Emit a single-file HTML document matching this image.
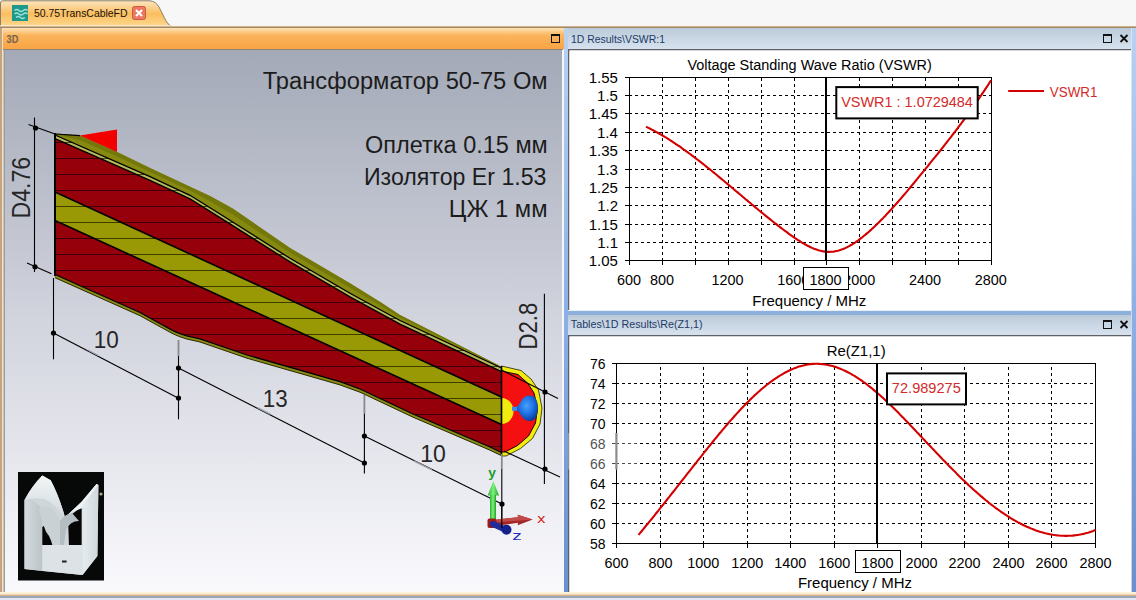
<!DOCTYPE html>
<html><head><meta charset="utf-8"><style>
html,body{margin:0;padding:0;width:1136px;height:600px;overflow:hidden;background:#f7f7f7;}
svg{position:absolute;left:0;top:0;}
text{font-family:"Liberation Sans", sans-serif;}
</style></head><body>
<svg width="1136" height="600" viewBox="0 0 1136 600">
<defs>
<linearGradient id="gTab" x1="0" y1="0" x2="0" y2="1">
 <stop offset="0" stop-color="#fde6c0"/><stop offset="0.5" stop-color="#fbbe60"/><stop offset="1" stop-color="#fdd98e"/>
</linearGradient>
<linearGradient id="gHdrL" x1="0" y1="0" x2="0" y2="1">
 <stop offset="0" stop-color="#fde2b4"/><stop offset="0.35" stop-color="#fbb45c"/><stop offset="1" stop-color="#f9a444"/>
</linearGradient>
<linearGradient id="gHdrR" x1="0" y1="0" x2="0" y2="1">
 <stop offset="0" stop-color="#bac8d6"/><stop offset="0.1" stop-color="#bfcddb"/><stop offset="1" stop-color="#d6e2ee"/>
</linearGradient>
<linearGradient id="gStrip" x1="0" y1="28" x2="0" y2="594" gradientUnits="userSpaceOnUse">
 <stop offset="0" stop-color="#b8d2f4"/><stop offset="0.5" stop-color="#8cb0e6"/><stop offset="1" stop-color="#6890d0"/>
</linearGradient>
<linearGradient id="g3d" x1="0" y1="0" x2="0" y2="1">
 <stop offset="0" stop-color="#a3a9b7"/><stop offset="0.5" stop-color="#d2d4de"/><stop offset="1" stop-color="#fafafd"/>
</linearGradient>
</defs>

<rect x="0" y="0" width="1136" height="28" fill="#f7f7f7"/>
<path d="M0.5,27 L0.5,3 Q0.5,0.8 2.5,0.8 L150,0.8 Q156,1.5 159,7 L166,21 Q169,26 173,27 Z" fill="url(#gTab)" stroke="#8c7f6a" stroke-width="1"/>
<rect x="0" y="25" width="1136" height="1" fill="#fcf4ec" opacity="0.7"/>
<rect x="0" y="26" width="1136" height="1" fill="#cfb28c"/>
<rect x="0" y="27" width="1136" height="1" fill="#a08a6c"/>
<rect x="12" y="5" width="16" height="16" fill="#1b9a8c"/>
<path d="M14.5,10.5 q2.2,-2 4.4,0 t4.4,0 t4.4,0 M14.5,14 q2.2,-2 4.4,0 t4.4,0 t4.4,0 M16,17.5 q2.2,-2 4.4,0 t4.4,0" fill="none" stroke="#9fe0d6" stroke-width="1.3"/>
<text transform="translate(33.93,16.50) scale(0.9496,1)" font-size="11" fill="#1a1208" >50.75TransCableFD</text>
<rect x="132.5" y="6.5" width="13" height="13" rx="2" fill="#ea7862" stroke="#cc5a40" stroke-width="1"/>
<path d="M136,10 L142,16 M142,10 L136,16" stroke="#fff" stroke-width="2"/>
<rect x="0" y="28" width="2" height="566" fill="#c8a47c"/>
<rect x="2" y="28" width="1.5" height="566" fill="#efe2cc"/>
<rect x="3.5" y="50" width="1.5" height="543" fill="#9c9c9c"/>
<rect x="3" y="28" width="561" height="21" fill="url(#gHdrL)"/>
<rect x="3" y="49" width="560" height="1" fill="#8c8478"/>
<text transform="translate(6.60,43.00) scale(0.8000,1)" font-size="11.5" font-weight="bold" fill="#74604e" >3D</text>
<rect x="551.5" y="34.5" width="8" height="8" fill="none" stroke="#111" stroke-width="1"/><rect x="551" y="34" width="9" height="2" fill="#111"/>
<rect x="5" y="50" width="558" height="543" fill="url(#g3d)"/>
<rect x="562" y="50" width="2" height="543" fill="#f6f6f8"/>
<rect x="564" y="28" width="4" height="565.5" fill="url(#gStrip)"/>
<rect x="1131.5" y="28" width="4.5" height="565.5" fill="url(#gStrip)"/><rect x="1130.3" y="50" width="1.2" height="543" fill="#dfe5ec"/>
<rect x="568" y="28" width="563" height="21" fill="url(#gHdrR)"/>
<rect x="568" y="49" width="563" height="1.5" fill="#5e6268"/>
<text transform="translate(570.95,42.60) scale(0.9949,1)" font-size="10.5" fill="#1e3a68" >1D Results\VSWR:1</text>
<rect x="1103.5" y="34.5" width="8" height="8" fill="none" stroke="#111" stroke-width="1"/><rect x="1103" y="34" width="9" height="2" fill="#111"/><path d="M1120.5,35 L1127.5,42 M1127.5,35 L1120.5,42" stroke="#111" stroke-width="1.8"/>
<rect x="568" y="50" width="1.5" height="261" fill="#5e6268"/>
<rect x="569.5" y="50.5" width="561.5" height="260" fill="#ffffff"/>
<rect x="568" y="310" width="563" height="1" fill="#e8eef6"/>
<rect x="568" y="311" width="563" height="4" fill="#8eb0dc"/>
<rect x="568" y="315" width="563" height="20" fill="url(#gHdrR)"/>
<rect x="568" y="335" width="563" height="1.5" fill="#5e6268"/>
<text transform="translate(570.84,328.20) scale(1.0209,1)" font-size="10.5" fill="#1e3a68" >Tables\1D Results\Re(Z1,1)</text>
<rect x="1103.5" y="320.5" width="8" height="8" fill="none" stroke="#111" stroke-width="1"/><rect x="1103" y="320" width="9" height="2" fill="#111"/><path d="M1120.5,321 L1127.5,328 M1127.5,321 L1120.5,328" stroke="#111" stroke-width="1.8"/>
<rect x="568" y="336" width="1.5" height="257" fill="#5e6268"/>
<rect x="569.5" y="336.5" width="561.5" height="256" fill="#ffffff"/>
<rect x="0" y="592" width="1136" height="3" fill="#fdf0d8"/>
<rect x="0" y="594.5" width="1136" height="1.5" fill="#d8b48a"/>
<rect x="0" y="596" width="1136" height="2" fill="#9aa6b6"/>
<rect x="0" y="598" width="1136" height="2" fill="#dfe8f4"/>
<line x1="662.5" y1="261.0" x2="662.5" y2="78.0" stroke="#000" stroke-width="1" stroke-dasharray="3,3"/><line x1="695.5" y1="261.0" x2="695.5" y2="78.0" stroke="#000" stroke-width="1" stroke-dasharray="3,3"/><line x1="728.5" y1="261.0" x2="728.5" y2="78.0" stroke="#000" stroke-width="1" stroke-dasharray="3,3"/><line x1="761.5" y1="261.0" x2="761.5" y2="78.0" stroke="#000" stroke-width="1" stroke-dasharray="3,3"/><line x1="794.5" y1="261.0" x2="794.5" y2="78.0" stroke="#000" stroke-width="1" stroke-dasharray="3,3"/><line x1="859.5" y1="261.0" x2="859.5" y2="78.0" stroke="#000" stroke-width="1" stroke-dasharray="3,3"/><line x1="892.5" y1="261.0" x2="892.5" y2="78.0" stroke="#000" stroke-width="1" stroke-dasharray="3,3"/><line x1="925.5" y1="261.0" x2="925.5" y2="78.0" stroke="#000" stroke-width="1" stroke-dasharray="3,3"/><line x1="958.5" y1="261.0" x2="958.5" y2="78.0" stroke="#000" stroke-width="1" stroke-dasharray="3,3"/><line x1="629.0" y1="95.5" x2="992.0" y2="95.5" stroke="#000" stroke-width="1" stroke-dasharray="3,3"/><line x1="629.0" y1="113.5" x2="992.0" y2="113.5" stroke="#000" stroke-width="1" stroke-dasharray="3,3"/><line x1="629.0" y1="132.5" x2="992.0" y2="132.5" stroke="#000" stroke-width="1" stroke-dasharray="3,3"/><line x1="629.0" y1="150.5" x2="992.0" y2="150.5" stroke="#000" stroke-width="1" stroke-dasharray="3,3"/><line x1="629.0" y1="169.5" x2="992.0" y2="169.5" stroke="#000" stroke-width="1" stroke-dasharray="3,3"/><line x1="629.0" y1="187.5" x2="992.0" y2="187.5" stroke="#000" stroke-width="1" stroke-dasharray="3,3"/><line x1="629.0" y1="205.5" x2="992.0" y2="205.5" stroke="#000" stroke-width="1" stroke-dasharray="3,3"/><line x1="629.0" y1="224.5" x2="992.0" y2="224.5" stroke="#000" stroke-width="1" stroke-dasharray="3,3"/><line x1="629.0" y1="242.5" x2="992.0" y2="242.5" stroke="#000" stroke-width="1" stroke-dasharray="3,3"/>
<rect x="629.5" y="77.5" width="362.0" height="183.0" fill="none" stroke="#000" stroke-width="1"/>
<line x1="625.0" y1="77.5" x2="632.0" y2="77.5" stroke="#000"/>
<line x1="625.0" y1="95.5" x2="632.0" y2="95.5" stroke="#000"/>
<line x1="625.0" y1="113.5" x2="632.0" y2="113.5" stroke="#000"/>
<line x1="625.0" y1="132.5" x2="632.0" y2="132.5" stroke="#000"/>
<line x1="625.0" y1="150.5" x2="632.0" y2="150.5" stroke="#000"/>
<line x1="625.0" y1="169.5" x2="632.0" y2="169.5" stroke="#000"/>
<line x1="625.0" y1="187.5" x2="632.0" y2="187.5" stroke="#000"/>
<line x1="625.0" y1="205.5" x2="632.0" y2="205.5" stroke="#000"/>
<line x1="625.0" y1="224.5" x2="632.0" y2="224.5" stroke="#000"/>
<line x1="625.0" y1="242.5" x2="632.0" y2="242.5" stroke="#000"/>
<line x1="625.0" y1="260.5" x2="632.0" y2="260.5" stroke="#000"/>
<line x1="629.5" y1="258.0" x2="629.5" y2="265.0" stroke="#000"/>
<line x1="662.5" y1="258.0" x2="662.5" y2="265.0" stroke="#000"/>
<line x1="695.5" y1="258.0" x2="695.5" y2="265.0" stroke="#000"/>
<line x1="728.5" y1="258.0" x2="728.5" y2="265.0" stroke="#000"/>
<line x1="761.5" y1="258.0" x2="761.5" y2="265.0" stroke="#000"/>
<line x1="794.5" y1="258.0" x2="794.5" y2="265.0" stroke="#000"/>
<line x1="826.5" y1="258.0" x2="826.5" y2="265.0" stroke="#000"/>
<line x1="859.5" y1="258.0" x2="859.5" y2="265.0" stroke="#000"/>
<line x1="892.5" y1="258.0" x2="892.5" y2="265.0" stroke="#000"/>
<line x1="925.5" y1="258.0" x2="925.5" y2="265.0" stroke="#000"/>
<line x1="958.5" y1="258.0" x2="958.5" y2="265.0" stroke="#000"/>
<line x1="991.5" y1="258.0" x2="991.5" y2="265.0" stroke="#000"/>
<text transform="translate(588.67,82.60) scale(1.0000,1)" font-size="15" fill="#000" >1.55</text>
<text transform="translate(597.05,100.60) scale(1.0000,1)" font-size="15" fill="#000" >1.5</text>
<text transform="translate(588.67,118.60) scale(1.0000,1)" font-size="15" fill="#000" >1.45</text>
<text transform="translate(596.92,137.60) scale(1.0000,1)" font-size="15" fill="#000" >1.4</text>
<text transform="translate(588.67,155.60) scale(1.0000,1)" font-size="15" fill="#000" >1.35</text>
<text transform="translate(597.05,174.60) scale(1.0000,1)" font-size="15" fill="#000" >1.3</text>
<text transform="translate(588.67,192.60) scale(1.0000,1)" font-size="15" fill="#000" >1.25</text>
<text transform="translate(597.17,210.60) scale(1.0000,1)" font-size="15" fill="#000" >1.2</text>
<text transform="translate(588.67,229.60) scale(1.0000,1)" font-size="15" fill="#000" >1.15</text>
<text transform="translate(597.17,247.60) scale(1.0000,1)" font-size="15" fill="#000" >1.1</text>
<text transform="translate(588.67,265.60) scale(1.0000,1)" font-size="15" fill="#000" >1.05</text>
<text transform="translate(616.94,284.50) scale(0.9600,1)" font-size="15" fill="#000" >600</text>
<text transform="translate(649.90,284.50) scale(0.9600,1)" font-size="15" fill="#000" >800</text>
<text transform="translate(711.44,284.50) scale(0.9600,1)" font-size="15" fill="#000" >1200</text>
<text transform="translate(777.24,284.50) scale(0.9600,1)" font-size="15" fill="#000" >1600</text>
<text transform="translate(843.22,284.50) scale(0.9600,1)" font-size="15" fill="#000" >2000</text>
<text transform="translate(909.02,284.50) scale(0.9600,1)" font-size="15" fill="#000" >2400</text>
<text transform="translate(974.82,284.50) scale(0.9600,1)" font-size="15" fill="#000" >2800</text>
<rect x="803.5" y="267.5" width="45" height="22" fill="#fff" stroke="#000" stroke-width="1"/>
<text transform="translate(809.54,284.50) scale(0.9600,1)" font-size="15" fill="#000" >1800</text>
<text transform="translate(752.35,305.70) scale(0.9987,1)" font-size="15" fill="#000" >Frequency / MHz</text>
<text transform="translate(687.38,70.00) scale(0.9646,1)" font-size="15" fill="#000" >Voltage Standing Wave Ratio (VSWR)</text>
<path d="M646.0,126.7 L647.4,127.4 L648.9,128.1 L650.3,128.8 L651.8,129.6 L653.2,130.3 L654.7,131.1 L656.1,131.9 L657.6,132.7 L659.0,133.5 L660.4,134.3 L661.9,135.1 L663.3,136.0 L664.8,136.9 L666.2,137.7 L667.7,138.6 L669.1,139.5 L670.5,140.5 L672.0,141.4 L673.4,142.3 L674.9,143.3 L676.3,144.3 L677.8,145.3 L679.2,146.2 L680.7,147.2 L682.1,148.3 L683.5,149.3 L685.0,150.3 L686.4,151.4 L687.9,152.4 L689.3,153.5 L690.8,154.5 L692.2,155.6 L693.6,156.7 L695.1,157.8 L696.5,158.9 L698.0,160.0 L699.4,161.1 L700.9,162.2 L702.3,163.4 L703.8,164.5 L705.2,165.7 L706.6,166.8 L708.1,168.0 L709.5,169.1 L711.0,170.3 L712.4,171.5 L713.9,172.6 L715.3,173.8 L716.8,175.0 L718.2,176.2 L719.6,177.4 L721.1,178.6 L722.5,179.8 L724.0,181.0 L725.4,182.2 L726.9,183.4 L728.3,184.6 L729.7,185.8 L731.2,187.0 L732.6,188.2 L734.1,189.5 L735.5,190.7 L737.0,191.9 L738.4,193.1 L739.9,194.3 L741.3,195.5 L742.7,196.7 L744.2,198.0 L745.6,199.2 L747.1,200.4 L748.5,201.6 L750.0,202.8 L751.4,204.0 L752.9,205.2 L754.3,206.4 L755.7,207.6 L757.2,208.8 L758.6,210.0 L760.1,211.2 L761.5,212.4 L763.0,213.5 L764.4,214.7 L765.8,215.9 L767.3,217.1 L768.7,218.2 L770.2,219.4 L771.6,220.5 L773.1,221.7 L774.5,222.8 L776.0,223.9 L777.4,225.1 L778.8,226.2 L780.3,227.3 L781.7,228.4 L783.2,229.5 L784.6,230.6 L786.1,231.6 L787.5,232.7 L788.9,233.8 L790.4,234.8 L791.8,235.8 L793.3,236.9 L794.7,237.9 L796.2,238.8 L797.6,239.8 L799.1,240.7 L800.5,241.7 L801.9,242.6 L803.4,243.4 L804.8,244.2 L806.3,245.0 L807.7,245.8 L809.2,246.5 L810.6,247.2 L812.1,247.9 L813.5,248.5 L814.9,249.1 L816.4,249.6 L817.8,250.1 L819.3,250.5 L820.7,250.8 L822.2,251.2 L823.6,251.4 L825.0,251.6 L826.5,251.8 L827.9,251.9 L829.4,251.9 L830.8,251.8 L832.3,251.7 L833.7,251.6 L835.2,251.3 L836.6,251.0 L838.0,250.7 L839.5,250.3 L840.9,249.8 L842.4,249.3 L843.8,248.7 L845.3,248.1 L846.7,247.4 L848.2,246.6 L849.6,245.9 L851.0,245.0 L852.5,244.2 L853.9,243.3 L855.4,242.3 L856.8,241.3 L858.3,240.3 L859.7,239.2 L861.1,238.1 L862.6,237.0 L864.0,235.8 L865.5,234.6 L866.9,233.4 L868.4,232.2 L869.8,230.9 L871.3,229.6 L872.7,228.3 L874.1,226.9 L875.6,225.5 L877.0,224.1 L878.5,222.7 L879.9,221.3 L881.4,219.8 L882.8,218.4 L884.2,216.9 L885.7,215.4 L887.1,213.8 L888.6,212.3 L890.0,210.7 L891.5,209.1 L892.9,207.5 L894.4,205.9 L895.8,204.3 L897.2,202.7 L898.7,201.0 L900.1,199.4 L901.6,197.7 L903.0,196.0 L904.5,194.3 L905.9,192.6 L907.4,190.9 L908.8,189.2 L910.2,187.5 L911.7,185.7 L913.1,184.0 L914.6,182.2 L916.0,180.5 L917.5,178.7 L918.9,176.9 L920.3,175.2 L921.8,173.4 L923.2,171.6 L924.7,169.9 L926.1,168.1 L927.6,166.3 L929.0,164.5 L930.5,162.7 L931.9,160.9 L933.3,159.2 L934.8,157.4 L936.2,155.6 L937.7,153.8 L939.1,152.0 L940.6,150.2 L942.0,148.3 L943.5,146.5 L944.9,144.7 L946.3,142.8 L947.8,141.0 L949.2,139.1 L950.7,137.3 L952.1,135.4 L953.6,133.5 L955.0,131.7 L956.4,129.8 L957.9,127.8 L959.3,125.9 L960.8,124.0 L962.2,122.1 L963.7,120.1 L965.1,118.1 L966.6,116.2 L968.0,114.2 L969.4,112.2 L970.9,110.2 L972.3,108.1 L973.8,106.1 L975.2,104.0 L976.7,101.9 L978.1,99.8 L979.5,97.7 L981.0,95.6 L982.4,93.4 L983.9,91.3 L985.3,89.1 L986.8,86.9 L988.2,84.7 L989.7,82.4 L991.1,80.2" fill="none" stroke="#d40000" stroke-width="2.1" stroke-linejoin="round"/>
<line x1="826" y1="77" x2="826" y2="261" stroke="#000" stroke-width="2"/>
<rect x="836.3" y="87.1" width="141.4" height="31.3" fill="#fff" stroke="#000" stroke-width="2"/>
<text transform="translate(841.18,107.10) scale(0.9638,1)" font-size="15" fill="#d42a2a" >VSWR1 : 1.0729484</text>
<line x1="1008.2" y1="91" x2="1044" y2="91" stroke="#d40000" stroke-width="2.2"/>
<text transform="translate(1049.79,96.70) scale(0.8933,1)" font-size="15" fill="#d42a2a" >VSWR1</text>
<line x1="660.5" y1="544.0" x2="660.5" y2="364.0" stroke="#000" stroke-width="1" stroke-dasharray="3,3"/><line x1="703.5" y1="544.0" x2="703.5" y2="364.0" stroke="#000" stroke-width="1" stroke-dasharray="3,3"/><line x1="747.5" y1="544.0" x2="747.5" y2="364.0" stroke="#000" stroke-width="1" stroke-dasharray="3,3"/><line x1="790.5" y1="544.0" x2="790.5" y2="364.0" stroke="#000" stroke-width="1" stroke-dasharray="3,3"/><line x1="834.5" y1="544.0" x2="834.5" y2="364.0" stroke="#000" stroke-width="1" stroke-dasharray="3,3"/><line x1="921.5" y1="544.0" x2="921.5" y2="364.0" stroke="#000" stroke-width="1" stroke-dasharray="3,3"/><line x1="964.5" y1="544.0" x2="964.5" y2="364.0" stroke="#000" stroke-width="1" stroke-dasharray="3,3"/><line x1="1008.5" y1="544.0" x2="1008.5" y2="364.0" stroke="#000" stroke-width="1" stroke-dasharray="3,3"/><line x1="1051.5" y1="544.0" x2="1051.5" y2="364.0" stroke="#000" stroke-width="1" stroke-dasharray="3,3"/><line x1="616.0" y1="383.5" x2="1096.0" y2="383.5" stroke="#000" stroke-width="1" stroke-dasharray="3,3"/><line x1="616.0" y1="403.5" x2="1096.0" y2="403.5" stroke="#000" stroke-width="1" stroke-dasharray="3,3"/><line x1="616.0" y1="423.5" x2="1096.0" y2="423.5" stroke="#000" stroke-width="1" stroke-dasharray="3,3"/><line x1="616.0" y1="443.5" x2="1096.0" y2="443.5" stroke="#000" stroke-width="1" stroke-dasharray="3,3"/><line x1="616.0" y1="463.5" x2="1096.0" y2="463.5" stroke="#000" stroke-width="1" stroke-dasharray="3,3"/><line x1="616.0" y1="483.5" x2="1096.0" y2="483.5" stroke="#000" stroke-width="1" stroke-dasharray="3,3"/><line x1="616.0" y1="503.5" x2="1096.0" y2="503.5" stroke="#000" stroke-width="1" stroke-dasharray="3,3"/><line x1="616.0" y1="523.5" x2="1096.0" y2="523.5" stroke="#000" stroke-width="1" stroke-dasharray="3,3"/>
<rect x="616.5" y="363.5" width="479.0" height="180.0" fill="none" stroke="#000" stroke-width="1"/>
<line x1="612.0" y1="363.5" x2="619.0" y2="363.5" stroke="#000"/>
<text transform="translate(590.00,368.70) scale(0.9300,1)" font-size="15" fill="#000" >76</text>
<line x1="612.0" y1="383.5" x2="619.0" y2="383.5" stroke="#000"/>
<text transform="translate(589.89,388.70) scale(0.9300,1)" font-size="15" fill="#000" >74</text>
<line x1="612.0" y1="403.5" x2="619.0" y2="403.5" stroke="#000"/>
<text transform="translate(590.12,408.70) scale(0.9300,1)" font-size="15" fill="#000" >72</text>
<line x1="612.0" y1="423.5" x2="619.0" y2="423.5" stroke="#000"/>
<text transform="translate(590.00,428.70) scale(0.9300,1)" font-size="15" fill="#000" >70</text>
<line x1="612.0" y1="443.5" x2="619.0" y2="443.5" stroke="#000"/>
<text transform="translate(590.00,448.70) scale(0.9300,1)" font-size="15" fill="#000" >68</text>
<line x1="612.0" y1="463.5" x2="619.0" y2="463.5" stroke="#000"/>
<text transform="translate(590.00,468.70) scale(0.9300,1)" font-size="15" fill="#000" >66</text>
<line x1="612.0" y1="483.5" x2="619.0" y2="483.5" stroke="#000"/>
<text transform="translate(589.89,488.70) scale(0.9300,1)" font-size="15" fill="#000" >64</text>
<line x1="612.0" y1="503.5" x2="619.0" y2="503.5" stroke="#000"/>
<text transform="translate(590.12,508.70) scale(0.9300,1)" font-size="15" fill="#000" >62</text>
<line x1="612.0" y1="523.5" x2="619.0" y2="523.5" stroke="#000"/>
<text transform="translate(590.00,528.70) scale(0.9300,1)" font-size="15" fill="#000" >60</text>
<line x1="612.0" y1="543.5" x2="619.0" y2="543.5" stroke="#000"/>
<text transform="translate(590.00,548.70) scale(0.9300,1)" font-size="15" fill="#000" >58</text>
<line x1="616.5" y1="541.0" x2="616.5" y2="548.0" stroke="#000"/>
<text transform="translate(604.44,567.70) scale(0.9600,1)" font-size="15" fill="#000" >600</text>
<line x1="660.5" y1="541.0" x2="660.5" y2="548.0" stroke="#000"/>
<text transform="translate(648.50,567.70) scale(0.9600,1)" font-size="15" fill="#000" >800</text>
<line x1="703.5" y1="541.0" x2="703.5" y2="548.0" stroke="#000"/>
<text transform="translate(687.24,567.70) scale(0.9600,1)" font-size="15" fill="#000" >1000</text>
<line x1="747.5" y1="541.0" x2="747.5" y2="548.0" stroke="#000"/>
<text transform="translate(731.24,567.70) scale(0.9600,1)" font-size="15" fill="#000" >1200</text>
<line x1="790.5" y1="541.0" x2="790.5" y2="548.0" stroke="#000"/>
<text transform="translate(774.24,567.70) scale(0.9600,1)" font-size="15" fill="#000" >1400</text>
<line x1="834.5" y1="541.0" x2="834.5" y2="548.0" stroke="#000"/>
<text transform="translate(818.24,567.70) scale(0.9600,1)" font-size="15" fill="#000" >1600</text>
<line x1="877.5" y1="541.0" x2="877.5" y2="548.0" stroke="#000"/>
<line x1="921.5" y1="541.0" x2="921.5" y2="548.0" stroke="#000"/>
<text transform="translate(905.42,567.70) scale(0.9600,1)" font-size="15" fill="#000" >2000</text>
<line x1="964.5" y1="541.0" x2="964.5" y2="548.0" stroke="#000"/>
<text transform="translate(948.42,567.70) scale(0.9600,1)" font-size="15" fill="#000" >2200</text>
<line x1="1008.5" y1="541.0" x2="1008.5" y2="548.0" stroke="#000"/>
<text transform="translate(992.42,567.70) scale(0.9600,1)" font-size="15" fill="#000" >2400</text>
<line x1="1051.5" y1="541.0" x2="1051.5" y2="548.0" stroke="#000"/>
<text transform="translate(1035.42,567.70) scale(0.9600,1)" font-size="15" fill="#000" >2600</text>
<line x1="1095.5" y1="541.0" x2="1095.5" y2="548.0" stroke="#000"/>
<text transform="translate(1079.42,567.70) scale(0.9600,1)" font-size="15" fill="#000" >2800</text>
<rect x="855.5" y="550.5" width="45" height="22" fill="#fff" stroke="#000" stroke-width="1"/>
<text transform="translate(861.54,567.70) scale(0.9600,1)" font-size="15" fill="#000" >1800</text>
<text transform="translate(797.95,587.80) scale(0.9987,1)" font-size="15" fill="#000" >Frequency / MHz</text>
<text transform="translate(826.65,355.60) scale(0.9965,1)" font-size="15" fill="#000" >Re(Z1,1)</text>
<path d="M638.5,534.9 L640.0,533.1 L641.6,531.2 L643.1,529.4 L644.6,527.5 L646.1,525.7 L647.7,523.8 L649.2,521.9 L650.7,520.1 L652.3,518.2 L653.8,516.3 L655.3,514.4 L656.8,512.5 L658.4,510.6 L659.9,508.7 L661.4,506.7 L663.0,504.8 L664.5,502.9 L666.0,501.0 L667.5,499.0 L669.1,497.1 L670.6,495.2 L672.1,493.2 L673.7,491.3 L675.2,489.3 L676.7,487.4 L678.2,485.4 L679.8,483.5 L681.3,481.5 L682.8,479.6 L684.4,477.6 L685.9,475.7 L687.4,473.7 L688.9,471.8 L690.5,469.8 L692.0,467.9 L693.5,465.9 L695.1,464.0 L696.6,462.1 L698.1,460.1 L699.7,458.2 L701.2,456.3 L702.7,454.3 L704.2,452.4 L705.8,450.5 L707.3,448.6 L708.8,446.7 L710.4,444.8 L711.9,442.9 L713.4,441.0 L714.9,439.1 L716.5,437.3 L718.0,435.4 L719.5,433.5 L721.1,431.7 L722.6,429.9 L724.1,428.1 L725.6,426.3 L727.2,424.5 L728.7,422.7 L730.2,420.9 L731.8,419.2 L733.3,417.5 L734.8,415.8 L736.3,414.1 L737.9,412.4 L739.4,410.7 L740.9,409.1 L742.5,407.5 L744.0,405.9 L745.5,404.3 L747.0,402.7 L748.6,401.2 L750.1,399.7 L751.6,398.2 L753.2,396.8 L754.7,395.3 L756.2,393.9 L757.7,392.5 L759.3,391.2 L760.8,389.8 L762.3,388.5 L763.9,387.2 L765.4,386.0 L766.9,384.8 L768.4,383.6 L770.0,382.4 L771.5,381.3 L773.0,380.2 L774.6,379.1 L776.1,378.1 L777.6,377.1 L779.1,376.1 L780.7,375.2 L782.2,374.3 L783.7,373.4 L785.3,372.5 L786.8,371.7 L788.3,371.0 L789.8,370.2 L791.4,369.5 L792.9,368.9 L794.4,368.3 L796.0,367.7 L797.5,367.1 L799.0,366.6 L800.5,366.2 L802.1,365.8 L803.6,365.4 L805.1,365.0 L806.7,364.7 L808.2,364.5 L809.7,364.3 L811.3,364.1 L812.8,363.9 L814.3,363.9 L815.8,363.8 L817.4,363.8 L818.9,363.9 L820.4,364.0 L822.0,364.1 L823.5,364.3 L825.0,364.5 L826.5,364.7 L828.1,365.0 L829.6,365.4 L831.1,365.7 L832.7,366.1 L834.2,366.6 L835.7,367.1 L837.2,367.6 L838.8,368.2 L840.3,368.8 L841.8,369.4 L843.4,370.1 L844.9,370.8 L846.4,371.5 L847.9,372.3 L849.5,373.1 L851.0,373.9 L852.5,374.8 L854.1,375.7 L855.6,376.6 L857.1,377.6 L858.6,378.6 L860.2,379.6 L861.7,380.7 L863.2,381.8 L864.8,382.9 L866.3,384.0 L867.8,385.2 L869.3,386.4 L870.9,387.6 L872.4,388.8 L873.9,390.1 L875.5,391.4 L877.0,392.7 L878.5,394.0 L880.0,395.3 L881.6,396.7 L883.1,398.1 L884.6,399.5 L886.2,400.9 L887.7,402.4 L889.2,403.8 L890.7,405.3 L892.3,406.8 L893.8,408.3 L895.3,409.8 L896.9,411.3 L898.4,412.8 L899.9,414.4 L901.4,415.9 L903.0,417.5 L904.5,419.1 L906.0,420.7 L907.6,422.3 L909.1,423.9 L910.6,425.5 L912.1,427.1 L913.7,428.7 L915.2,430.3 L916.7,431.9 L918.3,433.5 L919.8,435.2 L921.3,436.8 L922.8,438.4 L924.4,440.0 L925.9,441.7 L927.4,443.3 L929.0,444.9 L930.5,446.5 L932.0,448.1 L933.6,449.8 L935.1,451.4 L936.6,453.0 L938.1,454.6 L939.7,456.2 L941.2,457.8 L942.7,459.4 L944.3,461.0 L945.8,462.5 L947.3,464.1 L948.8,465.7 L950.4,467.2 L951.9,468.8 L953.4,470.3 L955.0,471.8 L956.5,473.4 L958.0,474.9 L959.5,476.4 L961.1,477.9 L962.6,479.4 L964.1,480.8 L965.7,482.3 L967.2,483.7 L968.7,485.2 L970.2,486.6 L971.8,488.0 L973.3,489.4 L974.8,490.8 L976.4,492.1 L977.9,493.5 L979.4,494.8 L980.9,496.1 L982.5,497.4 L984.0,498.7 L985.5,500.0 L987.1,501.2 L988.6,502.5 L990.1,503.7 L991.6,504.9 L993.2,506.0 L994.7,507.2 L996.2,508.3 L997.8,509.4 L999.3,510.5 L1000.8,511.6 L1002.3,512.7 L1003.9,513.7 L1005.4,514.7 L1006.9,515.7 L1008.5,516.7 L1010.0,517.7 L1011.5,518.6 L1013.0,519.5 L1014.6,520.4 L1016.1,521.3 L1017.6,522.1 L1019.2,522.9 L1020.7,523.7 L1022.2,524.5 L1023.7,525.2 L1025.3,526.0 L1026.8,526.7 L1028.3,527.3 L1029.9,528.0 L1031.4,528.6 L1032.9,529.2 L1034.4,529.8 L1036.0,530.4 L1037.5,530.9 L1039.0,531.4 L1040.6,531.9 L1042.1,532.3 L1043.6,532.8 L1045.2,533.2 L1046.7,533.5 L1048.2,533.9 L1049.7,534.2 L1051.3,534.5 L1052.8,534.8 L1054.3,535.0 L1055.9,535.2 L1057.4,535.4 L1058.9,535.5 L1060.4,535.7 L1062.0,535.8 L1063.5,535.8 L1065.0,535.9 L1066.6,535.9 L1068.1,535.8 L1069.6,535.8 L1071.1,535.7 L1072.7,535.6 L1074.2,535.4 L1075.7,535.3 L1077.3,535.0 L1078.8,534.8 L1080.3,534.5 L1081.8,534.2 L1083.4,533.9 L1084.9,533.5 L1086.4,533.1 L1088.0,532.7 L1089.5,532.2 L1091.0,531.7 L1092.5,531.2 L1094.1,530.6 L1095.6,530.0" fill="none" stroke="#d40000" stroke-width="2.1" stroke-linejoin="round"/>
<line x1="877" y1="363" x2="877" y2="544" stroke="#000" stroke-width="2"/>
<rect x="887" y="373.4" width="79" height="31" fill="#fff" stroke="#000" stroke-width="2"/>
<text transform="translate(891.87,392.80) scale(0.9727,1)" font-size="15" fill="#d42a2a" >72.989275</text>
<rect x="568" y="433" width="69" height="36.5" fill="#fff" opacity="0.3"/>
<rect x="615.3" y="433" width="2.2" height="36.5" fill="#8c8c8c"/>
<text transform="translate(262.72,89.40) scale(0.9681,1)" font-size="24.5" fill="#1c1c1c" >Трансформатор 50-75 Ом</text>
<text transform="translate(365.02,153.00) scale(0.9588,1)" font-size="24.5" fill="#1c1c1c" >Оплетка 0.15 мм</text>
<text transform="translate(363.91,185.40) scale(0.9452,1)" font-size="24.5" fill="#1c1c1c" >Изолятор Er 1.53</text>
<text transform="translate(448.86,217.30) scale(0.9714,1)" font-size="24.5" fill="#1c1c1c" >ЦЖ 1 мм</text>
<defs><linearGradient id="gOl" x1="0" y1="0" x2="0" y2="1"><stop offset="0" stop-color="#74780a"/><stop offset="1" stop-color="#84880c"/></linearGradient><clipPath id="cutclip"><polygon points="55,135 150,176.7 190,195.3 220,214 290,258.3 350,293.3 400,320.5 501.5,368 501.5,452.5 490,447 413,414 360,389 340,381.7 247,355 200,338.8 186.7,335.8 180,333.6 173.3,330.8 156.7,321.7 140,312.5 55,274.5"/></clipPath><radialGradient id="gBlue" cx="0.45" cy="0.4" r="0.6"><stop offset="0" stop-color="#4aa0ff"/><stop offset="0.6" stop-color="#1a6ee0"/><stop offset="1" stop-color="#0a3fa0"/></radialGradient><linearGradient id="gGreen" x1="0" y1="0" x2="1" y2="0"><stop offset="0" stop-color="#30b030"/><stop offset="0.5" stop-color="#7cf07c"/><stop offset="1" stop-color="#20a020"/></linearGradient></defs>
<polygon points="55,133.5 80,135.5 117,152 150,168 210,196 232.7,208.5 290,248 350,283.3 381,302.5 400,315 500,366 503,366.5 501.5,368 400,320.5 350,293.3 290,258.3 220,214 190,195.3 150,176.7 55,135" fill="#868a10"/>
<polygon points="55,133.5 80,135.5 117,152.0 150,168.0 190,186.66666666666666 210,196.0 220,201.5066079295154 232.7,208.5 290,248.0 350,283.3 381,302.5 400,315.0 500,366.0 501.5,366.25 501.5,367.0375 500,366.5841133004926 400,317.475 381,305.9488 350,287.80000000000007 290,252.63500000000002 232.7,214.59177857142856 220,207.12863436123348 210,201.29500000000002 190,190.55166666666668 150,171.91500000000002 117,156.59663157894738 80,140.21315789473684 55,134.175" fill="#74780a"/>
<polygon points="80,135.5 117,129.5 117,152" fill="#f20000"/>
<polygon points="55,135 150,176.7 190,195.3 220,214 290,258.3 350,293.3 400,320.5 501.5,368 501.5,452.5 490,447 413,414 360,389 340,381.7 247,355 200,338.8 186.7,335.8 180,333.6 173.3,330.8 156.7,321.7 140,312.5 55,274.5" fill="#96000a"/>
<polygon points="55,192 501.5,397 501.5,424.5 55,220.5" fill="#989a06"/>
<polygon points="55,135 150,176.7 190,195.3 220,214 290,258.3 350,293.3 400,320.5 501.5,368 501.5,371.6 400,324.1 350,296.90000000000003 290,261.90000000000003 220,217.6 190,198.9 150,180.29999999999998 55,138.6" fill="#b6ba5c"/>
<polyline points="55,135 150,176.7 190,195.3 220,214 290,258.3 350,293.3 400,320.5 501.5,368" fill="none" stroke="#000" stroke-width="1.3"/>
<polyline points="55,138.6 150,180.29999999999998 190,198.9 220,217.6 290,261.90000000000003 350,296.90000000000003 400,324.1 501.5,371.6" fill="none" stroke="#000" stroke-width="1.3"/>
<polygon points="55,274.5 140,312.5 156.7,321.7 173.3,330.8 180,333.6 186.7,335.8 200,338.8 247,355 340,381.7 360,389 413,414 490,447 501.5,452.5 501.5,455.7 490,450.2 413,417.2 360,392.2 340,384.9 247,358.2 200,342.0 186.7,339.0 180,336.8 173.3,334.0 156.7,324.9 140,315.7 55,277.7" fill="#8a8a18"/>
<polyline points="55,274.5 140,312.5 156.7,321.7 173.3,330.8 180,333.6 186.7,335.8 200,338.8 247,355 340,381.7 360,389 413,414 490,447 501.5,452.5" fill="none" stroke="#000" stroke-width="1.3"/>
<polyline points="55,277.7 140,315.7 156.7,324.9 173.3,334.0 180,336.8 186.7,339.0 200,342.0 247,358.2 340,384.9 360,392.2 413,417.2 490,450.2 501.5,455.7" fill="none" stroke="#2a2a00" stroke-width="1"/>
<g clip-path="url(#cutclip)" stroke="#000" stroke-width="1" opacity="0.6"><line x1="55" y1="142.5" x2="502" y2="142.5"/><line x1="55" y1="158.5" x2="502" y2="158.5"/><line x1="55" y1="174.5" x2="502" y2="174.5"/><line x1="55" y1="190.5" x2="502" y2="190.5"/><line x1="55" y1="206.5" x2="502" y2="206.5"/><line x1="55" y1="222.5" x2="502" y2="222.5"/><line x1="55" y1="238.5" x2="502" y2="238.5"/><line x1="55" y1="254.5" x2="502" y2="254.5"/><line x1="55" y1="270.5" x2="502" y2="270.5"/><line x1="55" y1="286.5" x2="502" y2="286.5"/><line x1="55" y1="302.5" x2="502" y2="302.5"/><line x1="55" y1="318.5" x2="502" y2="318.5"/><line x1="55" y1="334.5" x2="502" y2="334.5"/><line x1="55" y1="350.5" x2="502" y2="350.5"/><line x1="55" y1="366.5" x2="502" y2="366.5"/><line x1="55" y1="382.5" x2="502" y2="382.5"/><line x1="55" y1="398.5" x2="502" y2="398.5"/><line x1="55" y1="414.5" x2="502" y2="414.5"/><line x1="55" y1="430.5" x2="502" y2="430.5"/><line x1="55" y1="446.5" x2="502" y2="446.5"/><line x1="55" y1="462.5" x2="502" y2="462.5"/></g>
<polyline points="55,192 501.5,397" fill="none" stroke="#000" stroke-width="1.6"/>
<polyline points="55,220.5 501.5,424.5" fill="none" stroke="#000" stroke-width="1.6"/>
<line x1="55" y1="133" x2="55" y2="276" stroke="#000" stroke-width="2"/>
<polygon points="501.5,366 521,370.5 531,379 538.5,390 542,408 540,424 532.5,438.5 520.5,448.5 506,456 501.5,456" fill="#f0ec10" stroke="#202000" stroke-width="0.8"/>
<polygon points="501.5,371 518,374.5 527.5,383 534,393 537.5,408 535.5,423 528.5,436 517.5,445.5 505,452 501.5,452" fill="#f41010" stroke="#1a0000" stroke-width="1"/>
<path d="M501.5,398 A12,13 0 0 1 501.5,424 Z" fill="#f0ec10"/>
<rect x="512" y="406.8" width="8" height="4" fill="#3a8cf0"/>
<path d="M517,406.5 C521,404 521.5,395.5 530,395.5 C535.5,395.5 538,401 538,408 C538,415 535.5,421 530,421 C521.5,421 521,412.5 517,410.5 Z" fill="url(#gBlue)"/>
<line x1="501.5" y1="366" x2="501.5" y2="455" stroke="#000" stroke-width="1.6"/>
<g><line x1="34.5" y1="117.5" x2="34.5" y2="272" stroke="#000" stroke-width="1.1"/><line x1="28.5" y1="124.4" x2="55" y2="134" stroke="#000" stroke-width="1.1"/><line x1="27" y1="263" x2="51.5" y2="273.7" stroke="#000" stroke-width="1.1"/><line x1="55" y1="134" x2="80" y2="135.6" stroke="#000" stroke-width="1.2"/><circle cx="35.5" cy="128" r="2.6" fill="#000"/><circle cx="35" cy="266.8" r="2.6" fill="#000"/><line x1="53.5" y1="278" x2="53.5" y2="359.3" stroke="#000" stroke-width="1.1"/><circle cx="53.5" cy="333" r="2.6" fill="#000"/><line x1="53.5" y1="333" x2="178.5" y2="398.2" stroke="#000" stroke-width="1.1"/><line x1="178.5" y1="340" x2="178.5" y2="356" stroke="#8a8a8a" stroke-width="1.8"/><line x1="178.5" y1="356" x2="178.5" y2="419.3" stroke="#000" stroke-width="1.1"/><circle cx="178.5" cy="368" r="2.6" fill="#000"/><circle cx="178.5" cy="398" r="2.6" fill="#000"/><line x1="178.5" y1="368" x2="364.4" y2="463" stroke="#000" stroke-width="1.1"/><line x1="364.4" y1="395" x2="364.4" y2="413.5" stroke="#8a8a8a" stroke-width="1.8"/><line x1="364.4" y1="413.5" x2="364.4" y2="473.5" stroke="#000" stroke-width="1.1"/><circle cx="364.4" cy="436" r="2.6" fill="#000"/><circle cx="364.4" cy="463" r="2.6" fill="#000"/><line x1="364.4" y1="436" x2="502" y2="504" stroke="#000" stroke-width="1.1"/><line x1="501.8" y1="454" x2="501.8" y2="469" stroke="#8a8a8a" stroke-width="1.8"/><line x1="501.8" y1="469" x2="501.8" y2="528" stroke="#000" stroke-width="1.1"/><circle cx="502" cy="504" r="2.6" fill="#000"/><line x1="544.4" y1="293.7" x2="544.4" y2="484" stroke="#000" stroke-width="1.1"/><circle cx="545" cy="392" r="2.6" fill="#000"/><circle cx="545" cy="469" r="2.6" fill="#000"/><line x1="501.5" y1="370" x2="558" y2="398.5" stroke="#000" stroke-width="1.1"/><line x1="504" y1="451" x2="560" y2="477" stroke="#000" stroke-width="1.1"/></g>
<line x1="87.8" y1="350" x2="98.3" y2="355.5" stroke="#9aa0a8" stroke-width="1.4"/>
<line x1="257.5" y1="407.7" x2="270.3" y2="414.2" stroke="#9aa0a8" stroke-width="1.4"/>
<line x1="414" y1="461" x2="432" y2="469.8" stroke="#9aa0a8" stroke-width="1.4"/>
<text transform="translate(93.81,347.60) scale(0.9677,1)" font-size="23.3" fill="#262626" >10</text>
<text transform="translate(262.82,407.20) scale(0.9600,1)" font-size="23.3" fill="#262626" >13</text>
<text transform="translate(420.27,462.40) scale(0.9892,1)" font-size="23.3" fill="#262626" >10</text>
<g transform="translate(0,0)"><text transform="translate(30.00,218.48) rotate(-90) scale(0.9414,1.0861)" font-size="24.5" fill="#262626">D4.76</text></g>
<text transform="translate(537.00,349.51) rotate(-90) scale(0.9026,1.0511)" font-size="24.5" fill="#262626">D2.8</text>
<polygon points="487.7,495.5 493.3,481 499,495.5" fill="url(#gGreen)"/>
<rect x="490" y="495" width="6" height="26" fill="url(#gGreen)"/>
<polygon points="489,520.5 518,517.2 517.7,514.7 532.7,519.6 517.7,525.2 518,522.8 489,527" fill="#a42626"/>
<polygon points="489,520.5 518,517.2 517.7,514.7 532.7,519.6 489,523" fill="#c24a4a"/>
<rect x="487.5" y="518.5" width="9" height="9.5" rx="2" fill="#9a1c1c"/>
<line x1="493" y1="524" x2="505" y2="529.5" stroke="#1e2c9c" stroke-width="6" stroke-linecap="round"/>
<circle cx="506.5" cy="529.7" r="5" fill="#14208c"/>
<line x1="501.8" y1="505" x2="501.8" y2="528" stroke="#000" stroke-width="1.1"/>
<text transform="translate(488.36,477.20) scale(1.1111,1)" font-size="12.5" font-weight="bold" fill="#1c9c2c" >y</text>
<text transform="translate(537.34,522.70) scale(1.2480,1)" font-size="13" fill="#d42020" >x</text>
<text transform="translate(512.27,540.00) scale(1.4512,1)" font-size="13" fill="#1c2cc0" >z</text>
<defs><linearGradient id="gTh1" x1="0" y1="0" x2="1" y2="0"><stop offset="0" stop-color="#d4dadd"/><stop offset="1" stop-color="#bcc4c8"/></linearGradient><linearGradient id="gTh2" x1="0" y1="0" x2="0" y2="1"><stop offset="0" stop-color="#f2f6f7"/><stop offset="1" stop-color="#cfd6da"/></linearGradient><linearGradient id="gTh3" x1="0" y1="0" x2="1" y2="0"><stop offset="0" stop-color="#e6ecee"/><stop offset="1" stop-color="#d0d8dc"/></linearGradient></defs>
<rect x="18" y="472" width="86" height="108.5" fill="#070909"/>
<path d="M24.5,500 Q32,486 42.3,475.6 L50.7,480.3 Q58,494 63.8,513 L65.7,520.5 L67.5,515 L81.6,501.8 L96.5,484 L98.4,485 L97.4,556 L82.5,575 L24.5,569 Z" fill="#cfd6d9"/>
<path d="M24.5,500 Q32,486 42.3,475.6 L50.7,480.3 Q58,494 63.8,513 L65.7,520.5 Q56,503 44,499 Q34,497 24.5,500 Z" fill="url(#gTh2)"/>
<path d="M24.5,500 Q34,497 42.3,510 L42.3,571 L24.5,569 Z" fill="url(#gTh1)"/>
<path d="M42.3,527 Q48,522 57,530 L57,545 L42.3,545 Z" fill="#060606"/>
<polygon points="68,517 81.6,507 81.6,547 69,547" fill="#060606"/>
<path d="M38.6,509 Q45,505 50.7,507.4 Q58,514 61,526 L60.5,558 L55.4,558 Q52,538 46,531.7 Q41,520 38.6,509 Z" fill="#c9d1d4"/>
<path d="M60,521 Q65,514 72,513 L79,521 Q70,521 66,530 L63,552 L60,552 Z" fill="#b4bdc1"/>
<polygon points="42.3,545 82.5,545 82.5,575 42.3,571" fill="#dce2e5"/>
<polygon points="67.5,515 81.6,501.8 96.5,484 98.4,485 83,505 82.5,508 72,512" fill="#eef3f5"/>
<polygon points="82.5,505 98.4,485 97.4,556 82.5,575" fill="url(#gTh3)"/>
<rect x="62" y="560.5" width="4.6" height="2" fill="#202020"/>
<circle cx="101" cy="494" r="1.6" fill="#d8d0b8" opacity="0.8"/>
</svg></body></html>
